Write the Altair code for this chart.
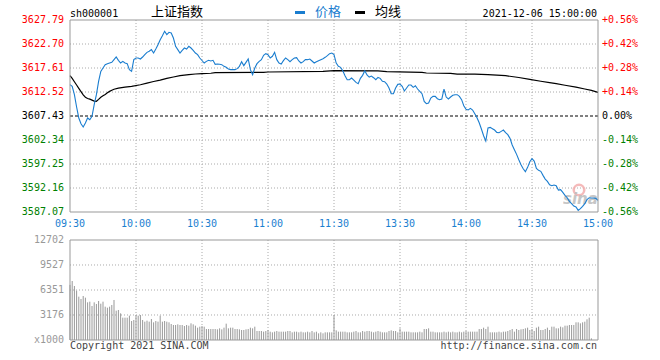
import altair as alt
import pandas as pd

# ---------------- data ----------------
prices = [
    3614.08, 3613.72, 3611.95, 3609.34, 3607.01, 3605.80, 3605.10, 3605.95, 3607.01, 3606.65,
    3607.36, 3609.83, 3611.95, 3614.78, 3616.90, 3617.61, 3618.32, 3618.53, 3618.67, 3618.81,
    3619.38, 3619.94, 3619.24, 3618.67, 3619.02, 3618.67, 3618.53, 3617.26, 3616.90, 3619.38,
    3619.73, 3619.73, 3619.52, 3619.94, 3620.44, 3620.93, 3621.15, 3621.50, 3620.79, 3621.64,
    3622.56, 3623.62, 3624.47, 3625.39, 3624.68, 3625.18, 3625.04, 3623.97, 3622.21, 3621.50,
    3620.79, 3621.36, 3621.85, 3621.64, 3622.21, 3621.85, 3621.36, 3620.79, 3620.44, 3619.73,
    3619.20, 3618.67, 3619.02, 3619.24, 3619.10, 3619.24, 3618.39, 3618.46, 3618.39, 3618.32,
    3617.96, 3617.75, 3617.40, 3617.26, 3617.26, 3617.26, 3617.47, 3617.96, 3618.95, 3618.11,
    3618.81, 3619.52, 3617.26, 3616.20, 3617.61, 3618.53, 3619.02, 3619.38, 3620.30, 3620.65,
    3620.44, 3619.73, 3620.09, 3620.93, 3619.38, 3618.67, 3618.46, 3619.17, 3619.73, 3619.38,
    3618.95, 3619.38, 3619.73, 3619.80, 3619.10, 3618.67, 3618.95, 3619.38, 3619.38, 3619.52,
    3619.10, 3618.67, 3618.95, 3619.17, 3619.38, 3619.59, 3619.87, 3620.23, 3620.65, 3620.79,
    3620.47, 3618.66, 3617.96, 3617.75, 3617.04, 3615.98, 3615.13, 3615.13, 3615.48, 3615.06,
    3614.56, 3614.28, 3615.41, 3616.05, 3617.04, 3616.12, 3615.69, 3615.91, 3615.55, 3615.13,
    3615.62, 3615.41, 3614.78, 3614.71, 3614.21, 3613.36, 3612.16, 3612.16, 3613.36, 3614.14,
    3614.21, 3613.72, 3612.73, 3613.36, 3614.00, 3614.00, 3613.50, 3613.85, 3613.15, 3612.65,
    3612.16, 3610.53, 3610.04, 3610.18, 3611.24, 3611.59, 3611.59, 3611.10, 3610.89, 3611.03,
    3613.15, 3611.45, 3611.03, 3611.45, 3611.81, 3611.95, 3611.95, 3611.59, 3610.89, 3609.61,
    3608.85, 3608.70, 3609.05, 3608.70, 3607.92, 3607.07, 3606.01, 3604.67, 3603.25, 3602.12,
    3604.88, 3605.02, 3604.74, 3604.45, 3603.96, 3603.89, 3604.17, 3604.45, 3603.89, 3603.46,
    3602.69, 3601.27, 3600.28, 3599.29, 3598.16, 3597.10, 3596.25, 3595.62, 3596.54, 3597.74,
    3598.37, 3597.88, 3596.32, 3595.90, 3595.69, 3594.84, 3594.06, 3593.57, 3592.86, 3592.65,
    3592.79, 3592.65, 3591.73, 3591.80, 3591.23, 3590.60, 3590.10, 3589.32, 3588.83, 3588.33,
    3588.12, 3587.41, 3587.77, 3588.26, 3588.83, 3589.68, 3590.10, 3590.03, 3590.03, 3589.96,
    3589.54,
]

avg_minutes = [0, 1, 2, 3, 4, 5, 6, 7, 8, 9, 10, 11, 12, 13, 14, 15, 16, 17, 18, 19, 20, 22, 25,
               28, 32, 35, 38, 41, 44, 47, 50, 54, 57, 60, 64, 66, 88, 90, 115, 120, 140, 144,
               160, 162, 173, 176, 184, 190, 198, 204, 209, 214, 218, 221, 225, 230, 234, 237, 240]
avg_values = [3615.98, 3615.40, 3614.70, 3614.00, 3613.30, 3612.60, 3611.90, 3611.40, 3611.15,
              3611.00, 3610.80, 3610.60, 3610.55, 3610.95, 3611.40, 3611.70, 3612.00, 3612.35,
              3612.65, 3612.90, 3613.10, 3613.35, 3613.55, 3613.72, 3614.05, 3614.40, 3614.75,
              3615.05, 3615.40, 3615.70, 3616.00, 3616.20, 3616.34, 3616.41, 3616.50, 3616.62,
              3616.70, 3616.76, 3616.90, 3617.04, 3617.00, 3616.83, 3616.70, 3616.55, 3616.45,
              3616.33, 3616.30, 3616.20, 3615.98, 3615.60, 3615.20, 3614.80, 3614.50, 3614.28,
              3613.95, 3613.55, 3613.15, 3612.85, 3612.44]

volumes = [
    7000,
    7494, 6859, 6266, 5504, 5208, 5589, 5377, 4784, 4869, 4319,
    4784, 4573, 4954, 4615, 4869, 4234, 4107, 4234, 4446, 5081,
    3726, 3811, 3387, 2837, 2837, 2837, 3091, 2413, 2540, 3176,
    3091, 3176, 2540, 2329, 2456, 2329, 2667, 2244, 2413, 2329,
    3091, 2329, 2413, 2329, 2244, 2032, 1905, 1905, 1990, 1905,
    1905, 1778, 1905, 1821, 2117, 1990, 1821, 1567, 1694, 1778,
    1694, 1397, 1397, 1397, 1397, 1397, 1355, 1482, 1355, 1567,
    2075, 1482, 1567, 1567, 1397, 1397, 1355, 1270, 1270, 1355,
    1397, 1567, 1482, 1694, 1143, 1143, 1143, 1059, 1143, 1270,
    1059, 974, 1059, 1143, 1059, 1059, 1059, 1059, 1143, 1143,
    974, 1059, 1059, 974, 1059, 974, 974, 1059, 974, 1143,
    974, 1059, 847, 974, 847, 974, 974, 974, 974, 3176,
    1228, 1059, 1059, 1059, 1059, 974, 974, 974, 1059, 1143,
    974, 974, 1143, 1059, 1143, 1143, 1059, 974, 1059, 1143,
    1059, 974, 974, 974, 1143, 1228, 1143, 1143, 974, 1482,
    1059, 1059, 1059, 1059, 974, 974, 974, 974, 1059, 974,
    1397, 1397, 1482, 1059, 1059, 974, 974, 974, 974, 1059,
    974, 1059, 974, 1059, 974, 974, 1059, 974, 1059, 1143,
    1059, 1059, 1059, 1059, 1059, 1397, 1397, 1567, 1397, 1694,
    974, 974, 974, 974, 1059, 974, 1059, 1059, 1143, 1270,
    1397, 1059, 1397, 1270, 1355, 1397, 1482, 1567, 1270, 1397,
    1143, 1567, 1694, 1270, 1270, 1397, 1567, 1270, 1694, 1694,
    1482, 1482, 1694, 1609, 1821, 1821, 1905, 1905, 1905, 2244,
    2244, 2117, 2244, 2329, 2625, 2837, 212, 0, 0, 0,
]

price_ticks = [3587.07, 3592.16, 3597.25, 3602.34, 3607.43, 3612.52, 3617.61, 3622.70, 3627.79]
pct_labels = ["-0.56%", "-0.42%", "-0.28%", "-0.14%", "0.00%", "+0.14%", "+0.28%", "+0.42%", "+0.56%"]
prev_close = 3607.43
time_ticks = [0, 30, 60, 90, 120, 150, 180, 210, 240]
time_labels = ["09:30", "10:00", "10:30", "11:00", "11:30", "13:30", "14:00", "14:30", "15:00"]
vol_ticks = [0, 3176, 6351, 9527, 12702]
vol_labels = ["x1000", "3176", "6351", "9527", "12702"]

# ---------------- style ----------------
W, H = 528, 320          # plot area spanning both panels
MAIN_H = 192             # price panel height
VOL_TOP, VOL_BOT = 220, 320
MONO = "DejaVu Sans Mono"
CJK = "Noto Sans CJK SC"
BLUE = "#1a7dcf"
BLUE_T = "#1a80d0"
RED = "#ff0000"
GREEN = "#008000"
GRID = "#aaaaaa"
BORDER = "#999999"
VOLC = "#999999"

xs = alt.Scale(domain=[0, 240], nice=False, zero=False)
ps = alt.Scale(domain=[price_ticks[0], price_ticks[-1]], range=[MAIN_H, 0], nice=False, zero=False)
vs = alt.Scale(domain=[vol_ticks[0], vol_ticks[-1]], range=[VOL_BOT, VOL_TOP], nice=False, zero=False)

minutes = list(range(len(prices)))
price_df = pd.DataFrame({"m": minutes, "p": prices})
avg_df = pd.DataFrame({"m": avg_minutes, "p": avg_values})
vol_df = pd.DataFrame({"m": list(range(len(volumes))), "v": volumes})
ptick_df = pd.DataFrame({"p": price_ticks, "lbl": [f"{v:.2f}" for v in price_ticks], "pct": pct_labels})
time_df = pd.DataFrame({"m": time_ticks, "lbl": time_labels})
vgrid_df = pd.DataFrame({"m": time_ticks[1:-1]})
vtick_df = pd.DataFrame({"v": vol_ticks, "lbl": vol_labels})
one = pd.DataFrame({"k": [0]})

X = alt.X("m:Q", scale=xs, axis=None)
YP = alt.Y("p:Q", scale=ps, axis=None)
YV = alt.Y("v:Q", scale=vs, axis=None)
sign_color = alt.Color("sign:N", scale=alt.Scale(domain=["up", "flat", "down"], range=[RED, "#000000", GREEN]), legend=None)
sign_expr = f"datum.p > {prev_close} + 0.001 ? 'up' : (datum.p < {prev_close} - 0.001 ? 'down' : 'flat')"

# ---------- price panel ----------
hgrid = alt.Chart(ptick_df).transform_filter(
    f"datum.p > {price_ticks[0]} + 0.01 && datum.p < {price_ticks[-1]} - 0.01 && abs(datum.p - {prev_close}) > 0.01"
).mark_rule(color=GRID, strokeDash=[1, 2], strokeWidth=1).encode(y=YP, x=alt.value(0), x2=alt.value(W))
vgrid = alt.Chart(vgrid_df).mark_rule(color=GRID, strokeDash=[1, 2], strokeWidth=1).encode(
    x=X, y=alt.value(0), y2=alt.value(MAIN_H))
prev_rule = alt.Chart(pd.DataFrame({"p": [prev_close]})).mark_rule(
    color="#000000", strokeDash=[3, 2], strokeWidth=1).encode(y=YP, x=alt.value(0), x2=alt.value(W))
avg_line = alt.Chart(avg_df).mark_line(color="#000000", strokeWidth=1.2).encode(x=X, y=YP)
price_line = alt.Chart(price_df).mark_line(color=BLUE, strokeWidth=1.1).encode(x=X, y=YP)
main_border = alt.Chart(one).mark_rect(fillOpacity=0, stroke=BORDER, strokeWidth=1).encode(
    x=alt.value(0), x2=alt.value(W), y=alt.value(0), y2=alt.value(MAIN_H))
left_lbl = alt.Chart(ptick_df).transform_calculate(sign=sign_expr).mark_text(
    align="right", baseline="middle", font=MONO, fontSize=10).encode(
    x=alt.value(-6), y=YP, text="lbl:N", color=sign_color)
right_lbl = alt.Chart(ptick_df).transform_calculate(sign=sign_expr).mark_text(
    align="left", baseline="middle", font=MONO, fontSize=10).encode(
    x=alt.value(W + 4), y=YP, text="pct:N", color=sign_color)

# faint sina watermark near the lower right corner
wm_ring = alt.Chart(one).mark_point(shape="circle", size=110, filled=False, stroke="#f3aaaa",
                                    strokeWidth=2.5, opacity=0.8).encode(
    x=alt.value(509), y=alt.value(170))
wm_text = alt.Chart(pd.DataFrame({"t": ["sina"]})).mark_text(
    align="left", baseline="alphabetic", font="DejaVu Sans", fontSize=15, fontWeight="bold",
    fontStyle="italic", color="#bdbdbd", opacity=0.85).encode(
    x=alt.value(493), y=alt.value(184), text="t:N")

price_layer = alt.layer(hgrid, vgrid, prev_rule, wm_ring, wm_text, avg_line, price_line,
                        main_border, left_lbl, right_lbl)

# ---------- volume panel ----------
vhgrid = alt.Chart(vtick_df).transform_filter(
    f"datum.v > 0 && datum.v < {vol_ticks[-1]}").mark_rule(
    color=GRID, strokeDash=[1, 2], strokeWidth=1).encode(y=YV, x=alt.value(0), x2=alt.value(W))
vvgrid = alt.Chart(vgrid_df).mark_rule(color=GRID, strokeDash=[1, 2], strokeWidth=1).encode(
    x=X, y=alt.value(VOL_TOP), y2=alt.value(VOL_BOT))
bars = alt.Chart(vol_df).mark_rule(color=VOLC, strokeWidth=1).encode(x=X, y=YV, y2=alt.value(VOL_BOT))
vol_border = alt.Chart(one).mark_rect(fillOpacity=0, stroke=BORDER, strokeWidth=1).encode(
    x=alt.value(0), x2=alt.value(W), y=alt.value(VOL_TOP), y2=alt.value(VOL_BOT))
vol_lbl = alt.Chart(vtick_df).mark_text(align="right", baseline="middle", font=MONO, fontSize=10,
                                        color="#999999").encode(x=alt.value(-6), y=YV, text="lbl:N")
vol_layer = alt.layer(vhgrid, vvgrid, bars, vol_border, vol_lbl)

# ---------- texts ----------
time_lbl = alt.Chart(time_df).mark_text(align="center", baseline="middle", font=MONO, fontSize=10,
                                        color=BLUE_T).encode(x=X, y=alt.value(203.5), text="lbl:N")


def txt(s, x, y, align="left", font=MONO, size=10, color="#000000"):
    return alt.Chart(pd.DataFrame({"t": [s]})).mark_text(
        align=align, baseline="alphabetic", font=font, fontSize=size, color=color).encode(
        x=alt.value(x), y=alt.value(y), text="t:N")


def dash(x, color):
    return alt.Chart(one).mark_rect(color=color).encode(
        x=alt.value(x), x2=alt.value(x + 10), y=alt.value(-9), y2=alt.value(-6))


header = alt.layer(
    txt("sh000001", 0, -3.5),
    txt("上证指数", 81, -4.5, font=CJK, size=13),
    dash(225, BLUE),
    txt("价格", 245, -4.5, font=CJK, size=13, color=BLUE),
    dash(285, "#000000"),
    txt("均线", 305, -4.5, font=CJK, size=13),
    txt("2021-12-06 15:00:00", 527, -3.5, align="right"),
    txt("Copyright 2021 SINA.COM", 0, 329, color="#444444"),
    txt("http://finance.sina.com.cn", 527, 329, align="right", color="#444444"),
    time_lbl,
)

chart = alt.layer(price_layer, vol_layer, header).resolve_scale(y="independent").properties(
    width=W, height=H,
    padding={"left": 70, "top": 20, "right": 62, "bottom": 20},
    autosize=alt.AutoSizeParams(type="none"),
    background="#ffffff",
).configure_view(stroke=None)

chart.save("out.html", embed_options={"renderer": "svg", "actions": False})
